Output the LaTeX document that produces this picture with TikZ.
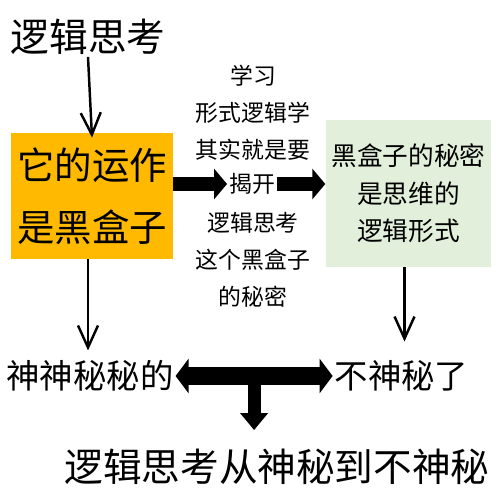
\documentclass[tikz,border=0pt]{standalone}
\usepackage{fontspec}
\setmainfont{Noto Sans CJK SC}
\usepackage{tikz}
\usetikzlibrary{arrows.meta,positioning,calc}
\usepackage{xcolor}

\definecolor{boxorange}{HTML}{FFBA00}
\definecolor{boxgreen}{HTML}{E2EFDA}

\tikzset{
    bigtext/.style={font=\fontsize{22pt}{26pt}\selectfont, inner sep=1pt},
    sidetext/.style={font=\fontsize{19pt}{23pt}\selectfont, inner sep=1pt},
    midtext/.style={font=\fontsize{13pt}{21pt}\selectfont, align=center, inner sep=1pt},
    thinarrow/.style={line width=1.4pt, -{Straight Barb[length=0.44cm, width=0.4cm]}},
    blockarrow/.style={line width=0.29cm, -{Triangle[length=0.26cm, width=0.6cm]}},
}

\begin{document}
\begin{tikzpicture}
    \useasboundingbox (0,0) rectangle (10,-10);

    % Title at top left
    \node[bigtext] (title) at (1.76,-0.74) {逻辑思考};

    % Black box (orange)
    \node[fill=boxorange, minimum width=3.2cm, minimum height=2.52cm, align=center,
          font=\fontsize{21.3pt}{35pt}\selectfont] (box) at (1.84,-3.92) {它的运作\\是黑盒子};

    % Secret of the box (green)
    \node[fill=boxgreen, minimum width=3.26cm, minimum height=2.94cm, align=center,
          font=\fontsize{14.6pt}{21.3pt}\selectfont] (secret) at (8.17,-3.87) {黑盒子的秘密\\是思维的\\逻辑形式};

    % Middle text column
    \node[midtext] (up) at (5.06,-2.25) {学习\\形式逻辑学\\其实就是要};
    \node[midtext] (kai) at (5.04,-3.68) {揭开};
    \node[midtext] (low) at (5.06,-5.2) {逻辑思考\\这个黑盒子\\的秘密};

    % Block arrows through the middle
    \draw[blockarrow] (box.east |- kai) -- (kai.west);
    \draw[blockarrow] (kai.east) -- (secret.west |- kai);

    % Two outcomes
    \node[sidetext] (mystic) at (1.8,-7.52) {神神秘秘的};
    \node[sidetext] (clear) at (8.03,-7.52) {不神秘了};

    % Thin arrows
    \draw[thinarrow] (title.south) -- ([yshift=-0.1cm]box.north);
    \draw[thinarrow] ([xshift=-0.08cm]box.south) -- ([xshift=-0.08cm,yshift=0.16cm]box.south |- mystic.north);
    \draw[thinarrow] ([xshift=-0.08cm]secret.south) -- ([xshift=-0.08cm,yshift=0.34cm]secret.south |- clear.north);

    % Double arrow and the T down to the summary
    \draw[line width=0.36cm, {Triangle[length=0.26cm, width=0.68cm]}-{Triangle[length=0.26cm, width=0.68cm]}]
        (mystic.east) -- (clear.west);
    \coordinate (tee) at ($(mystic.east)!0.5!(clear.west)$);

    \node[bigtext] (summary) at (5.54,-9.34) {逻辑思考从神秘到不神秘};
    \draw[line width=0.26cm, -{Triangle[length=0.34cm, width=0.54cm]}, shorten >=0.34cm]
        (tee) -- (tee |- summary.north);
\end{tikzpicture}
\end{document}
